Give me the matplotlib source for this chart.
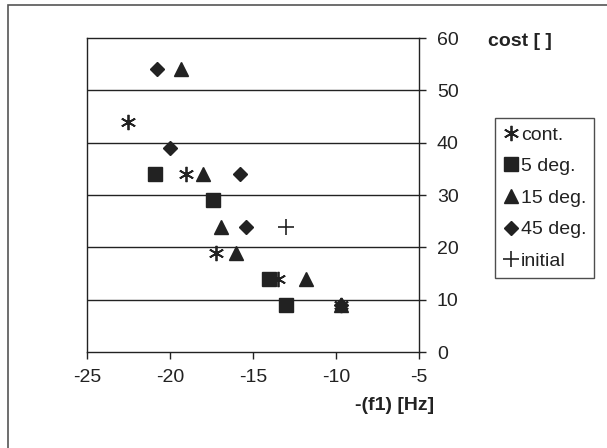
import matplotlib
matplotlib.use("Agg")
import matplotlib.pyplot as plt
from matplotlib.patches import Rectangle

plt.rcParams['font.family'] = ['Liberation Sans', 'DejaVu Sans']
plt.rcParams['axes.unicode_minus'] = False

# Data: -(f1) in Hz vs cost
cont_x = [-22.5, -19.0, -17.2, -13.5, -9.7]
cont_y = [44, 34, 19, 14, 9]
deg5_x = [-20.9, -17.4, -14.0, -13.0]
deg5_y = [34, 29, 14, 9]
deg15_x = [-19.3, -18.0, -16.9, -16.0, -11.8, -9.7]
deg15_y = [54, 34, 24, 19, 14, 9]
deg45_x = [-20.8, -20.0, -15.8, -15.4, -9.7]
deg45_y = [54, 39, 34, 24, 9]
init_x = [-13.0]
init_y = [24]

x_ticks = [-25, -20, -15, -10, -5]
y_ticks = [0, 10, 20, 30, 40, 50, 60]

ink = '#222222'
fs = 14

fig = plt.figure(figsize=(6.07, 4.48), dpi=100)
ax = fig.add_axes([0.143, 0.214, 0.547, 0.701])

# page frame around the figure
fig.patches.append(Rectangle((8 / 607, -0.1), 1.2, 1 - 5 / 448 + 0.1,
                             transform=fig.transFigure, fill=False,
                             edgecolor='#555555', linewidth=1.2))

for y in y_ticks[1:-1]:
    ax.axhline(y, color=ink, linewidth=1.0, zorder=1)

ax.plot(cont_x, cont_y, linestyle='none', marker=(6, 2, 0), markersize=11,
        markeredgewidth=1.3, color=ink, label='cont.', zorder=3)
ax.plot(deg5_x, deg5_y, linestyle='none', marker='s', markersize=9.5,
        color=ink, label='5 deg.', zorder=3)
ax.plot(deg15_x, deg15_y, linestyle='none', marker='^', markersize=10.5,
        color=ink, label='15 deg.', zorder=3)
ax.plot(deg45_x, deg45_y, linestyle='none', marker='D', markersize=7.5,
        color=ink, label='45 deg.', zorder=3)
ax.plot(init_x, init_y, linestyle='none', marker='+', markersize=12,
        markeredgewidth=1.2, color=ink, label='initial', zorder=3)

ax.set_xlim(-25, -5)
ax.set_ylim(0, 60)
ax.set_xticks(x_ticks)
ax.set_yticks(y_ticks)
ax.yaxis.tick_right()
ax.tick_params(axis='both', direction='out', length=5, width=1, colors=ink,
               labelsize=fs, labelcolor=ink)
ax.tick_params(axis='x', pad=7)
ax.tick_params(axis='y', pad=8)
for s in ax.spines.values():
    s.set_color(ink)
    s.set_linewidth(1.0)

fig.text(488 / 607, 1 - 42 / 448, 'cost [ ]', fontsize=fs, fontweight='bold',
         color=ink, ha='left', va='center')
fig.text(434 / 607, 1 - 405 / 448, '-(f1) [Hz]', fontsize=fs,
         fontweight='bold', color=ink, ha='right', va='center')

leg = ax.legend(loc='upper left', bbox_to_anchor=(1.229, 0.745), fontsize=fs,
                frameon=True, fancybox=False, handlelength=0.85,
                handletextpad=0.1, labelspacing=0.72, borderpad=0.4,
                borderaxespad=0)
leg.get_frame().set_edgecolor(ink)
leg.get_frame().set_linewidth(1.0)
for t in leg.get_texts():
    t.set_color(ink)

fig.savefig('out.png', dpi=100)
